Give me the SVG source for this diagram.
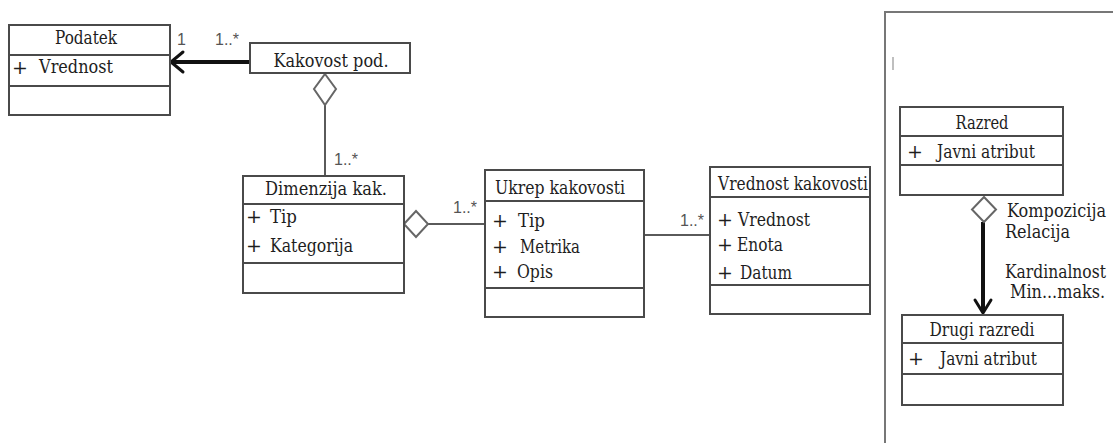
<svg xmlns="http://www.w3.org/2000/svg" width="1113" height="443" viewBox="0 0 1113 443">
  <style>
    .box { fill: #ffffff; stroke: #4a4a4a; stroke-width: 2; }
    .div { stroke: #4a4a4a; stroke-width: 2; fill: none; }
    .t { font-family: "DejaVu Serif", "Liberation Serif", serif; font-size: 19px; fill: #1e1e1e; }
    .c { text-anchor: middle; }
    .m { font-family: "Liberation Sans", Arial, sans-serif; font-size: 16px; fill: #555555; }
    .line { stroke: #5a5a5a; stroke-width: 2; fill: none; }
    .thick { stroke: #111111; stroke-width: 4; fill: none; }
    .dia { fill: #ffffff; stroke: #666666; stroke-width: 2; }
    .head { stroke: #111111; stroke-width: 3; fill: none; stroke-linecap: round; stroke-linejoin: round; }
  </style>
  <rect width="1113" height="443" fill="#ffffff"/>

  <!-- frame of the notation key on the right -->
  <g id="legend-frame">
    <path d="M885 443 V12 H1113" fill="none" stroke="#777777" stroke-width="2"/>
    <line x1="893" y1="57" x2="893" y2="70" stroke="#aaaaaa" stroke-width="1.5"/>
  </g>

  <!-- associations, aggregations and multiplicities -->
  <g id="connectors">
    <!-- Kakovost pod. -> Podatek -->
    <line class="thick" x1="250" y1="62" x2="172" y2="62"/>
    <path class="head" d="M183 52 L171 62 L183 72"/>
    <text class="m" x="177" y="45">1</text>
    <text class="m" x="215" y="45">1..*</text>

    <!-- Kakovost pod. <>- Dimenzija kak. -->
    <line class="line" x1="325" y1="105" x2="325" y2="176"/>
    <path class="dia" d="M325 74 L336 89 L325 105 L314 89 Z"/>
    <text class="m" x="334" y="165">1..*</text>

    <!-- Dimenzija kak. <>- Ukrep kakovosti -->
    <line class="line" x1="428" y1="224" x2="485" y2="224"/>
    <path class="dia" d="M404 224 L416 211 L428 224 L416 237 Z"/>
    <text class="m" x="453" y="213">1..*</text>

    <!-- Ukrep kakovosti - Vrednost kakovosti -->
    <line class="line" x1="644" y1="235" x2="710" y2="235"/>
    <text class="m" x="680" y="226">1..*</text>

    <!-- key: Razred <>-> Drugi razredi -->
    <line class="thick" x1="983" y1="222" x2="983" y2="312" stroke-width="3"/>
    <path class="head" d="M975 300 L983 313 L991 300"/>
    <path class="dia" d="M984 197 L996 209.5 L984 222 L972 209.5 Z"/>
  </g>

  <!-- Podatek -->
  <g id="podatek">
    <rect class="box" x="9" y="25" width="161" height="90"/>
    <line class="div" x1="9" y1="55" x2="170" y2="55"/>
    <line class="div" x1="9" y1="86" x2="170" y2="86"/>
    <text class="t c" x="86" y="44" textLength="62" lengthAdjust="spacingAndGlyphs">Podatek</text>
    <text class="t" x="12" y="74">+</text>
    <text class="t" x="39" y="73" textLength="74" lengthAdjust="spacingAndGlyphs">Vrednost</text>
  </g>

  <!-- Kakovost pod. -->
  <g id="kakovost-pod">
    <rect class="box" x="250" y="43" width="160" height="30"/>
    <text class="t c" x="331" y="67" textLength="115" lengthAdjust="spacingAndGlyphs">Kakovost pod.</text>
  </g>

  <!-- Dimenzija kak. -->
  <g id="dimenzija-kak">
    <rect class="box" x="243" y="176" width="161" height="117"/>
    <line class="div" x1="243" y1="204" x2="404" y2="204"/>
    <line class="div" x1="243" y1="263" x2="404" y2="263"/>
    <text class="t c" x="326" y="195" textLength="122" lengthAdjust="spacingAndGlyphs">Dimenzija kak.</text>
    <text class="t" x="246" y="223">+</text>
    <text class="t" x="270" y="223" textLength="27" lengthAdjust="spacingAndGlyphs">Tip</text>
    <text class="t" x="246" y="252">+</text>
    <text class="t" x="270" y="252" textLength="83" lengthAdjust="spacingAndGlyphs">Kategorija</text>
  </g>

  <!-- Ukrep kakovosti -->
  <g id="ukrep-kakovosti">
    <rect class="box" x="485" y="170" width="159" height="147"/>
    <line class="div" x1="485" y1="201" x2="644" y2="201"/>
    <line class="div" x1="485" y1="288" x2="644" y2="288"/>
    <text class="t" x="495" y="194" textLength="130" lengthAdjust="spacingAndGlyphs">Ukrep kakovosti</text>
    <text class="t" x="492" y="227">+</text>
    <text class="t" x="518" y="227" textLength="27" lengthAdjust="spacingAndGlyphs">Tip</text>
    <text class="t" x="492" y="253">+</text>
    <text class="t" x="520" y="253" textLength="60" lengthAdjust="spacingAndGlyphs">Metrika</text>
    <text class="t" x="492" y="278">+</text>
    <text class="t" x="517" y="278" textLength="36" lengthAdjust="spacingAndGlyphs">Opis</text>
  </g>

  <!-- Vrednost kakovosti -->
  <g id="vrednost-kakovosti">
    <rect class="box" x="710" y="167" width="160" height="147"/>
    <line class="div" x1="710" y1="197" x2="870" y2="197"/>
    <line class="div" x1="710" y1="285" x2="870" y2="285"/>
    <text class="t" x="718" y="190" textLength="150" lengthAdjust="spacingAndGlyphs">Vrednost kakovosti</text>
    <text class="t" x="717" y="226">+</text>
    <text class="t" x="738" y="226" textLength="72" lengthAdjust="spacingAndGlyphs">Vrednost</text>
    <text class="t" x="717" y="251">+</text>
    <text class="t" x="737" y="251" textLength="46" lengthAdjust="spacingAndGlyphs">Enota</text>
    <text class="t" x="717" y="279">+</text>
    <text class="t" x="740" y="279" textLength="52" lengthAdjust="spacingAndGlyphs">Datum</text>
  </g>

  <!-- Razred -->
  <g id="razred">
    <rect class="box" x="900" y="107" width="163" height="88"/>
    <line class="div" x1="900" y1="136" x2="1063" y2="136"/>
    <line class="div" x1="900" y1="165" x2="1063" y2="165"/>
    <text class="t c" x="982" y="129" textLength="53" lengthAdjust="spacingAndGlyphs">Razred</text>
    <text class="t" x="907" y="158">+</text>
    <text class="t" x="937" y="158" textLength="98" lengthAdjust="spacingAndGlyphs">Javni atribut</text>
  </g>

  <!-- key captions, narrowed horizontally to fit beside the frame edge -->
  <g id="legend-labels" transform="scale(0.84,1)">
    <text class="t" x="1198.8" y="217" textLength="117.9" lengthAdjust="spacingAndGlyphs">Kompozicija</text>
    <text class="t" x="1196.4" y="238" textLength="77.4" lengthAdjust="spacingAndGlyphs">Relacija</text>
    <text class="t" x="1196.4" y="278" textLength="120.2" lengthAdjust="spacingAndGlyphs">Kardinalnost</text>
    <text class="t" x="1202.4" y="298" textLength="113.1" lengthAdjust="spacingAndGlyphs">Min...maks.</text>
  </g>

  <!-- Drugi razredi -->
  <g id="drugi-razredi">
    <rect class="box" x="902" y="315" width="161" height="90"/>
    <line class="div" x1="902" y1="343" x2="1063" y2="343"/>
    <line class="div" x1="902" y1="374" x2="1063" y2="374"/>
    <text class="t c" x="982" y="336" textLength="105" lengthAdjust="spacingAndGlyphs">Drugi razredi</text>
    <text class="t" x="908" y="365">+</text>
    <text class="t" x="940" y="365" textLength="97" lengthAdjust="spacingAndGlyphs">Javni atribut</text>
  </g>
</svg>
